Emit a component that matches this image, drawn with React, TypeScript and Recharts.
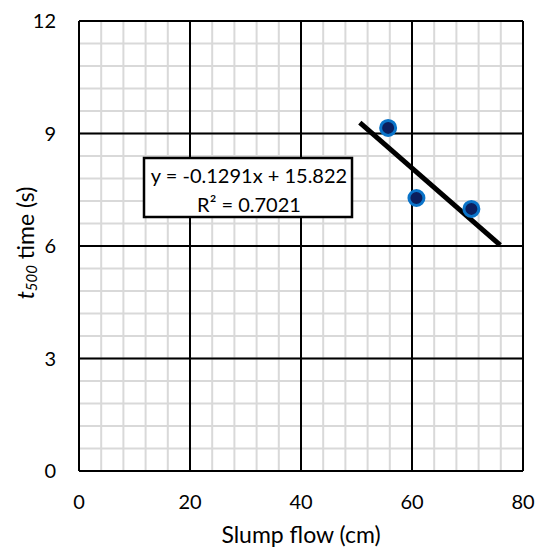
import React from 'react';
import {
  ScatterChart, Scatter, XAxis, YAxis, CartesianGrid, ReferenceLine,
} from 'recharts';

const slumpFlow = [55.7, 60.8, 70.7];
const t500Time = [9.15, 7.28, 6.99];

// Excel linear trendline shown in the box
const SLOPE = -0.1291;
const INTERCEPT = 15.822;
const trendX = [50.6, 75.9];

const xTicks = [0, 4, 8, 12, 16, 20, 24, 28, 32, 36, 40, 44, 48, 52, 56, 60, 64, 68, 72, 76, 80];
const yTicks = [0, 0.6, 1.2, 1.8, 2.4, 3, 3.6, 4.2, 4.8, 5.4, 6, 6.6, 7.2, 7.8, 8.4, 9, 9.6, 10.2, 10.8, 11.4, 12];
const xMajor = [0, 20, 40, 60, 80];
const yMajor = [0, 3, 6, 9, 12];

const points = slumpFlow.map((x, i) => ({ x, y: t500Time[i] }));
const trend = trendX.map((x) => ({ x, y: SLOPE * x + INTERCEPT }));

const FONT = 'Lato, "Open Sans", sans-serif';
const tickStyle = { fontSize: 20, fill: '#000', fontFamily: FONT };

const isMultiple = (v: number, step: number) => Math.abs(v / step - Math.round(v / step)) < 1e-6;

const Dot = (props: any) => {
  const { cx, cy } = props;
  return <circle cx={cx} cy={cy} r={7.5} fill="#0b1f5e" stroke="#0a74c9" strokeWidth={3} />;
};

const YLabel = ({ viewBox }: any) => {
  const cx = 34;
  const cy = viewBox ? viewBox.y + viewBox.height / 2 - 3 : 243;
  return (
    <text
      x={cx}
      y={cy}
      transform={`rotate(-90, ${cx}, ${cy})`}
      textAnchor="middle"
      fontSize={23}
      fontFamily={FONT}
      fill="#000"
    >
      <tspan fontStyle="italic">t</tspan>
      <tspan fontStyle="italic" fontSize={15} dy={3}>500</tspan>
      <tspan dy={-3}> time (s)</tspan>
    </text>
  );
};

export default function App() {
  return (
    <div style={{ position: 'absolute', left: 0, top: 0, width: 536, height: 548, background: '#fff' }}>
      <ScatterChart width={536} height={548} margin={{ top: 21, right: 13, left: 0, bottom: 0 }}>
        <CartesianGrid stroke="#d9d9d9" strokeWidth={2} />
        <XAxis
          type="number"
          dataKey="x"
          domain={[0, 80]}
          ticks={xTicks}
          interval={0}
          height={77}
          axisLine={false}
          tickLine={false}
          tickSize={0}
          tickMargin={24}
          tick={tickStyle}
          tickFormatter={(v: number) => (isMultiple(v, 20) ? String(v) : '')}
          label={{ value: 'Slump flow (cm)', position: 'insideBottom', offset: 5, style: { fontSize: 23, fill: '#000', fontFamily: FONT } }}
        />
        <YAxis
          type="number"
          dataKey="y"
          domain={[0, 12]}
          ticks={yTicks}
          interval={0}
          width={79}
          axisLine={false}
          tickLine={false}
          tickSize={0}
          tickMargin={23}
          tick={tickStyle}
          tickFormatter={(v: number) => (isMultiple(v, 3) ? String(Math.round(v)) : '')}
          label={<YLabel />}
        />
        {xMajor.map((v) => (
          <ReferenceLine key={'x' + v} x={v} stroke="#000" strokeWidth={2} />
        ))}
        {yMajor.map((v) => (
          <ReferenceLine key={'y' + v} y={v} stroke="#000" strokeWidth={2} />
        ))}
        <Scatter data={trend} line={{ stroke: '#000', strokeWidth: 5 }} shape={() => <g />} isAnimationActive={false} />
        <Scatter data={points} shape={<Dot />} isAnimationActive={false} />
      </ScatterChart>
      <svg width={536} height={548} style={{ position: 'absolute', left: 0, top: 0, pointerEvents: 'none' }}>
        <rect x={144} y={158} width={208} height={59} fill="#fff" stroke="#000" strokeWidth={2.5} />
        <text x={249} y={183} textAnchor="middle" fontSize={20} fontFamily={FONT} fill="#000">
          y = -0.1291x + 15.822
        </text>
        <text x={249} y={212} textAnchor="middle" fontSize={20} fontFamily={FONT} fill="#000">
          R² = 0.7021
        </text>
      </svg>
    </div>
  );
}
